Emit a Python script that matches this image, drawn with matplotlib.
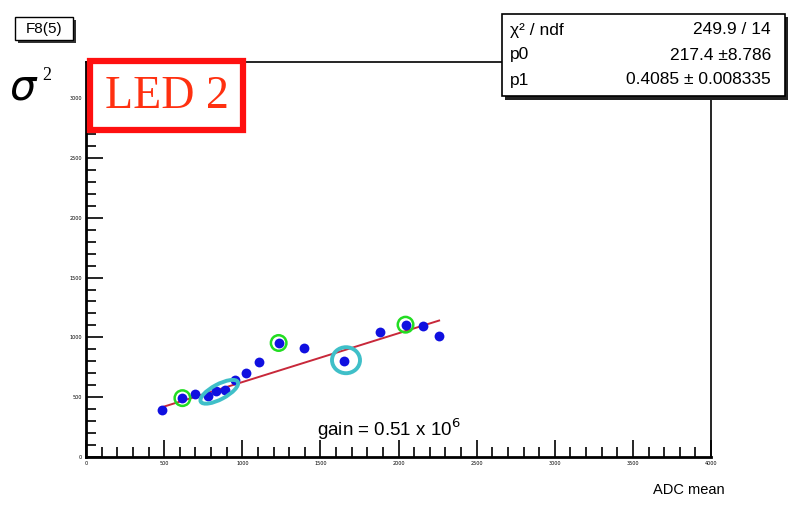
import matplotlib
matplotlib.use("Agg")
import matplotlib.pyplot as plt
from matplotlib.patches import Ellipse, Rectangle
from matplotlib.ticker import MultipleLocator
import matplotlib.transforms as mtransforms
import numpy as np

# ---------------- data ----------------
adc_mean = [485, 617, 699, 780, 833, 891, 955, 1026, 1104, 1233, 1397, 1654, 1880, 2045, 2158, 2258]
sigma2 = [394, 492, 525, 511, 555, 561, 645, 706, 790, 953, 910, 804, 1044, 1106, 1091, 1013]
fit_p0 = 217.4
fit_p1 = 0.4085
fit_range = [480, 2260]
green_idx = [1, 9, 13]
xticks = [0, 500, 1000, 1500, 2000, 2500, 3000, 3500, 4000]
yticks = [0, 500, 1000, 1500, 2000, 2500, 3000]
stat_names = ["χ² / ndf", "p0", "p1"]
stat_values = ["249.9 / 14", "217.4 ±8.786", "0.4085 ± 0.008335"]

W, H = 798, 509
fig = plt.figure(figsize=(W / 100, H / 100), dpi=100)
fig.patch.set_facecolor("white")
SANS = ["Liberation Sans", "DejaVu Sans"]

def fx(px):
    return px / W

def fy(py):
    return 1 - py / H

ax_l, ax_r, ax_t, ax_b = 86, 711, 62, 457
ax = fig.add_axes([fx(ax_l), fy(ax_b), fx(ax_r) - fx(ax_l), fy(ax_t) - fy(ax_b)])
ax.set_xlim(0, 4000)
ax.set_ylim(0, 3000 + (98 - ax_t) / 59.7 * 500)

for s in ax.spines.values():
    s.set_linewidth(1.2)
ax.spines["left"].set_linewidth(2)
ax.spines["bottom"].set_linewidth(2)

ax.set_xticks(xticks)
ax.set_yticks(yticks)
ax.xaxis.set_minor_locator(MultipleLocator(100))
ax.yaxis.set_minor_locator(MultipleLocator(100))
ax.tick_params(which="both", direction="in", top=False, right=False, width=1.2)
ax.tick_params(which="major", length=12, labelsize=3.5, pad=3)
ax.tick_params(which="minor", length=7)
ax.set_xticklabels([str(v) for v in xticks])
ax.set_yticklabels([str(v) for v in yticks])

# fit line
xf = np.array(fit_range, dtype=float)
ax.plot(xf, fit_p0 + fit_p1 * xf, color="#c8283a", lw=1.4, zorder=3)

# data points
ax.scatter(adc_mean, sigma2, s=50, color="#1010e0", marker="o", zorder=4, linewidths=0)

# green circles
ax.scatter([adc_mean[i] for i in green_idx], [sigma2[i] for i in green_idx], s=125,
           facecolors="none", edgecolors="#22dd22", linewidths=1.8, zorder=5)

# cyan ellipses (sizes in pixels converted to inches)
def px_ellipse(x, y, w, h, ang):
    tr = fig.dpi_scale_trans + mtransforms.ScaledTranslation(x, y, ax.transData)
    e = Ellipse((0, 0), w / 100, h / 100, angle=ang, transform=tr, fill=False,
                edgecolor="#3fbfc8", lw=2.8, zorder=5)
    ax.add_artist(e)

px_ellipse(adc_mean[4] + 20, sigma2[4] - 10, 42, 15, 28)
px_ellipse(adc_mean[11] + 10, sigma2[11] + 5, 28, 26, 0)

ax.text(1480, 230, "gain = 0.51 x 10$^{6}$", fontsize=13.5, family=SANS,
        ha="left", va="center")

fig.text(fx(725), fy(490), "ADC mean", fontsize=10.5, family=SANS,
         ha="right", va="center")

# F8(5) box with shadow
fig.patches.append(Rectangle((fx(18), fy(43)), fx(58), fy(20) - fy(43), transform=fig.transFigure,
                             facecolor="#333333", edgecolor="none", zorder=10))
fig.patches.append(Rectangle((fx(15), fy(40)), fx(58), fy(17) - fy(40), transform=fig.transFigure,
                             facecolor="white", edgecolor="black", lw=1, zorder=11))
fig.text(fx(44), fy(28.5), "F8(5)", fontsize=11, family=SANS,
         ha="center", va="center", zorder=12)

# stat box with shadow
fig.patches.append(Rectangle((fx(505), fy(100)), fx(283), fy(17) - fy(100), transform=fig.transFigure,
                             facecolor="#222222", edgecolor="none", zorder=10))
fig.patches.append(Rectangle((fx(502), fy(96)), fx(283), fy(14) - fy(96), transform=fig.transFigure,
                             facecolor="white", edgecolor="black", lw=1.2, zorder=11))
for i, (n, v) in enumerate(zip(stat_names, stat_values)):
    yy = 30 + i * 25
    fig.text(fx(510), fy(yy), n, fontsize=12.5, family=SANS,
             ha="left", va="center", zorder=12)
    fig.text(fx(771), fy(yy), v, fontsize=12.5, family=SANS,
             ha="right", va="center", zorder=12)

# LED 2 box
fig.patches.append(Rectangle((fx(90), fy(130)), fx(153), fy(61) - fy(130), transform=fig.transFigure,
                             facecolor="white", edgecolor="#ff1010", lw=4.5, zorder=11))
fig.text(fx(167), fy(97), "LED 2", fontsize=33, family="Liberation Serif", color="#ff3010",
         ha="center", va="center", zorder=12)

# sigma^2 label
fig.text(fx(10), fy(88), "σ", fontsize=30, family="DejaVu Sans", style="italic",
         ha="left", va="center", zorder=12)
fig.text(fx(42), fy(75), "2", fontsize=13, family="Liberation Serif",
         ha="left", va="center", zorder=12)

fig.savefig("out.png", dpi=100, facecolor="white")
